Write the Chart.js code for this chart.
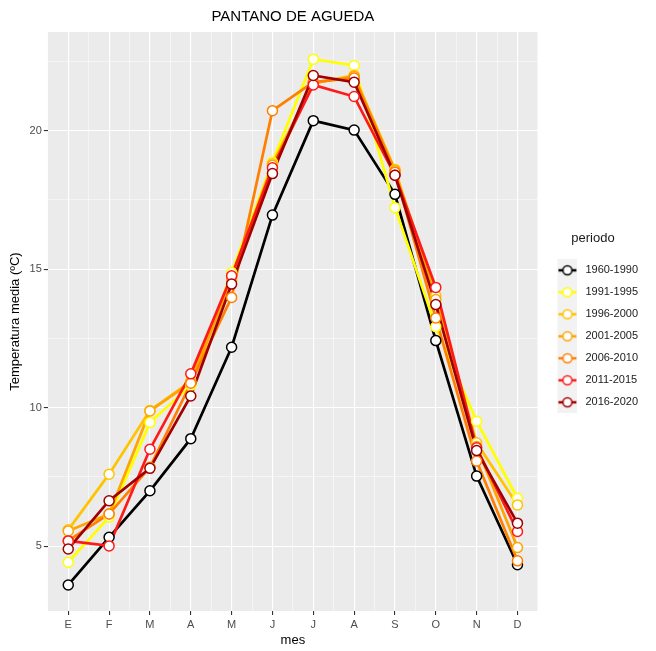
<!DOCTYPE html>
<html>
<head>
<meta charset="utf-8">
<script src="https://cdn.jsdelivr.net/npm/chart.js@4/dist/chart.umd.min.js"></script>
<style>
  html, body { margin: 0; padding: 0; background: #fff; }
  #wrap { width: 656px; height: 651px; }
</style>
</head>
<body>
<div id="wrap"><canvas id="graphCanvas" width="656" height="651"></canvas></div>
<script>
// datos: temperatura media mensual por periodo
var meses = ['E', 'F', 'M', 'A', 'M', 'J', 'J', 'A', 'S', 'O', 'N', 'D'];
var periodos = ['1960-1990', '1991-1995', '1996-2000', '2001-2005', '2006-2010', '2011-2015', '2016-2020'];
var colores = ['#000000', '#FFFF00', '#FFC400', '#FFA500', '#FF8000', '#FF1A1A', '#A00000'];

var t1960 = [3.60, 5.32, 7.00, 8.88, 12.18, 16.95, 20.36, 20.02, 17.70, 12.42, 7.53, 4.33];
var t1991 = [4.42, 6.05, 9.46, 10.80, 14.88, 18.86, 22.58, 22.35, 17.22, 12.92, 9.51, 6.73];
var t1996 = [5.59, 7.60, 9.90, 10.95, 14.70, 18.80, 21.70, 22.00, 18.60, 14.04, 8.73, 6.49];
var t2001 = [5.55, 6.16, 9.88, 10.90, 14.60, 18.75, 21.72, 21.95, 18.55, 13.90, 8.60, 4.95];
var t2006 = [5.20, 6.16, 7.85, 10.88, 13.98, 20.72, 21.75, 21.90, 18.50, 13.24, 8.07, 4.47];
var t2011 = [5.19, 5.01, 8.50, 11.22, 14.76, 18.66, 21.65, 21.23, 18.39, 14.34, 8.55, 5.53];
var t2016 = [4.90, 6.64, 7.81, 10.42, 14.46, 18.45, 21.99, 21.75, 18.39, 13.72, 8.45, 5.83];
var series = [t1960, t1991, t1996, t2001, t2006, t2011, t2016];

var fuente = '"Liberation Sans", Arial, sans-serif';

// icono de leyenda: linea + punto sobre fondo gris (desplazado 3px a la derecha)
function iconoLeyenda(color) {
    var c = document.createElement('canvas');
    c.width = 26; c.height = 22;
    var g = c.getContext('2d');
    g.fillStyle = '#F2F2F2';
    g.fillRect(6, 0, 20, 22);
    g.strokeStyle = color;
    g.lineWidth = 2.5;
    g.beginPath(); g.moveTo(7, 11); g.lineTo(25, 11); g.stroke();
    g.fillStyle = '#ffffff';
    g.lineWidth = 1.5;
    g.beginPath(); g.arc(16, 11, 4.5, 0, Math.PI * 2); g.fill(); g.stroke();
    return c;
}

var datasets = [];
// lineas primero (debajo)
for (var i = 0; i < periodos.length; i++) {
    datasets.push({
        label: periodos[i],
        data: series[i],
        borderColor: colores[i],
        backgroundColor: colores[i],
        borderWidth: 2.7,
        pointRadius: 0,
        fill: false,
        tension: 0,
        order: 20 - i
    });
}
// puntos encima
for (var j = 0; j < periodos.length; j++) {
    datasets.push({
        label: periodos[j] + ' pts',
        data: series[j],
        showLine: false,
        pointRadius: 5,
        pointBorderWidth: 1.5,
        pointBackgroundColor: '#ffffff',
        pointBorderColor: colores[j],
        order: 10 - j
    });
}

var fondoPanel = {
    id: 'fondoPanel',
    beforeDraw: function (chart) {
        var a = chart.chartArea, ctx = chart.ctx;
        ctx.save();
        ctx.fillStyle = '#EBEBEB';
        ctx.fillRect(a.left, a.top, a.right - a.left, a.bottom - a.top);
        ctx.restore();
    }
};

new Chart(document.getElementById('graphCanvas'), {
    type: 'line',
    data: { labels: meses, datasets: datasets },
    plugins: [fondoPanel],
    options: {
        responsive: false,
        animation: false,
        layout: { padding: { top: 4, right: 8, left: 8, bottom: 4 } },
        plugins: {
            tooltip: { enabled: false },
            title: {
                display: true,
                text: 'PANTANO DE AGUEDA',
                fullSize: false,
                color: '#000',
                font: { family: fuente, size: 15, weight: 'normal' },
                padding: { top: 4, bottom: 6 }
            },
            legend: {
                position: 'right',
                align: 'center',
                title: {
                    display: true,
                    text: 'periodo',
                    position: 'center',
                    color: '#1a1a1a',
                    font: { family: fuente, size: 13 },
                    padding: { top: 0, bottom: 6 }
                },
                labels: {
                    usePointStyle: true,
                    pointStyleWidth: 31,
                    color: '#1a1a1a',
                    padding: 11,
                    font: { family: fuente, size: 11 },
                    generateLabels: function (chart) {
                        return periodos.map(function (p, k) {
                            return {
                                text: p,
                                pointStyle: iconoLeyenda(colores[k]),
                                fillStyle: colores[k],
                                strokeStyle: colores[k],
                                lineWidth: 0,
                                hidden: false,
                                datasetIndex: k
                            };
                        });
                    }
                }
            }
        },
        scales: {
            x: {
                offset: true,
                border: { display: false },
                grid: { color: '#ffffff', lineWidth: 1.1, tickColor: '#333333', tickLength: 4 },
                ticks: { color: '#4D4D4D', font: { family: fuente, size: 11, lineHeight: 1 }, padding: 4, maxRotation: 0, autoSkip: false },
                title: { display: true, text: 'mes', color: '#000', font: { family: fuente, size: 13, lineHeight: 1 }, padding: { top: 0, bottom: 0 } }
            },
            x2: {
                position: 'bottom',
                offset: true,
                border: { display: false },
                grid: { offset: true, color: '#ffffff', lineWidth: 0.5, drawTicks: false },
                ticks: { display: false },
                afterFit: function (scale) { scale.height = 0; }
            },
            y: {
                min: 2.66,
                max: 23.56,
                border: { display: false },
                grid: {
                    color: '#ffffff',
                    lineWidth: function (c) { return c.tick && c.tick.value % 5 === 0 ? 1.1 : 0.5; },
                    tickColor: function (c) { return c.tick && c.tick.value % 5 === 0 ? '#333333' : 'rgba(0,0,0,0)'; },
                    tickLength: 4
                },
                ticks: {
                    stepSize: 2.5,
                    includeBounds: false,
                    color: '#4D4D4D',
                    font: { family: fuente, size: 11 },
                    padding: 2,
                    callback: function (v) { return v % 5 === 0 ? v : ''; }
                },
                title: { display: true, text: 'Temperatura media (ºC)', color: '#000', font: { family: fuente, size: 13 }, padding: { top: 0, bottom: 4 } }
            }
        }
    }
});
</script>
</body>
</html>
